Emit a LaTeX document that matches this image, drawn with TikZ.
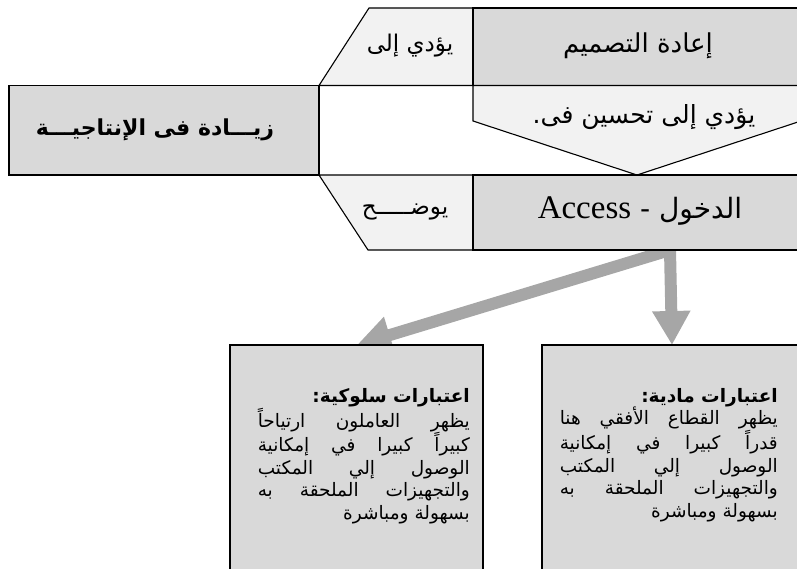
\documentclass[tikz,border=0pt]{standalone}
\usepackage{fontspec}
\usetikzlibrary{arrows.meta}
\TeXXeTstate=1
\newfontfamily\arabicfont[Script=Arabic]{DejaVu Sans}
\newfontfamily\latinserif{Liberation Serif}
\definecolor{boxgray}{HTML}{D9D9D9}
\definecolor{pale}{HTML}{F2F2F2}
\definecolor{arrowgray}{HTML}{A6A6A6}
\tikzset{
  darkbox/.style={draw, fill=boxgray, line width=1.1pt},
  palebox/.style={draw, fill=pale, line width=1.1pt},
  lbl/.style={inner sep=0pt, font=\arabicfont\fontsize{23}{27}\selectfont},
  biglbl/.style={inner sep=0pt, font=\arabicfont\fontsize{26}{30}\selectfont},
  notes/.style={inner sep=0pt, anchor=north east, align=right,
    font=\arabicfont\fontsize{18.5}{22.5}\selectfont},
  bigarrow/.style={arrowgray, line width=12pt, -{Triangle[length=34pt,width=36pt]}}
}
\begin{document}
\begin{tikzpicture}[x=1pt,y=-1pt]
  \useasboundingbox (0,0) rectangle (797,569);
  \clip (0,0) rectangle (797,569);
  % arrows out of the access box
  \coordinate (fork) at (670,250);
  \coordinate (behtip) at (357,345);
  \coordinate (phystip) at (672,345);
  \draw[bigarrow] (fork) -- (behtip);
  \draw[bigarrow] (fork) -- (phystip);
  % top row
  \draw[palebox] (473,8) -- (369,8) -- (319,85.5) -- (473,85.5) -- cycle;
  \draw[darkbox] (473,8) rectangle (810,85.5);
  \node[biglbl] (redesign) at (638,46) {\beginR إعادة التصميم\endR};
  \node[lbl] (leadsto) at (410,46) {\beginR يؤدي إلى\endR};
  % middle row
  \draw[darkbox] (9,85.5) rectangle (319,175);
  \node[inner sep=0pt, font=\arabicfont\bfseries\fontsize{22}{26}\selectfont] (gain) at (155,130)
    {\beginR زيـــادة فى الإنتاجيـــة\endR};
  \draw[palebox] (473,85.5) -- (473,121) -- (637,175) -- (801,121) -- (801,85.5) -- cycle;
  \node[lbl, font=\arabicfont\fontsize{25}{29}\selectfont] (improve) at (644,117)
    {\beginR يؤدي إلى تحسين فى.\endR};
  % bottom row
  \draw[palebox] (473,175) -- (319,175) -- (368,250) -- (473,250) -- cycle;
  \draw[darkbox] (473,175) rectangle (810,250);
  \node[lbl] (shows) at (405,212) {\beginR يوضـــــح\endR};
  \node[biglbl, font=\arabicfont\fontsize{28}{32}\selectfont] (access) at (640,211)
    {\beginR الدخول - \beginL{\latinserif\fontsize{33}{36}\selectfont Access}\endL\endR};
  % the two notes
  \draw[darkbox] (230,345) rectangle (483,590);
  \draw[darkbox] (542,345) rectangle (810,590);
  \node[notes] (behave) at (470,388) {%
    \hbox to 212pt{\beginR\textbf{اعتبارات سلوكية:}\hfill\endR}\\
    \hbox to 212pt{\beginR يظهر\hfill العاملون\hfill ارتياحاً\endR}\\
    \hbox to 212pt{\beginR كبيراً\hfill كبيرا\hfill في\hfill إمكانية\endR}\\
    \hbox to 212pt{\beginR الوصول\hfill إلي\hfill المكتب\endR}\\
    \hbox to 212pt{\beginR والتجهيزات\hfill الملحقة\hfill به\endR}\\
    \hbox to 212pt{\beginR بسهولة ومباشرة\hfill\endR}};
  \node[notes] (physical) at (778,388) {%
    \hbox to 218pt{\beginR\textbf{اعتبارات مادية:}\hfill\endR}\\
    \hbox to 218pt{\beginR يظهر\hfill القطاع\hfill الأفقي\hfill هنا\endR}\\
    \hbox to 218pt{\beginR قدراً\hfill كبيرا\hfill في\hfill إمكانية\endR}\\
    \hbox to 218pt{\beginR الوصول\hfill إلي\hfill المكتب\endR}\\
    \hbox to 218pt{\beginR والتجهيزات\hfill الملحقة\hfill به\endR}\\
    \hbox to 218pt{\beginR بسهولة ومباشرة\hfill\endR}};
\end{tikzpicture}
\end{document}
